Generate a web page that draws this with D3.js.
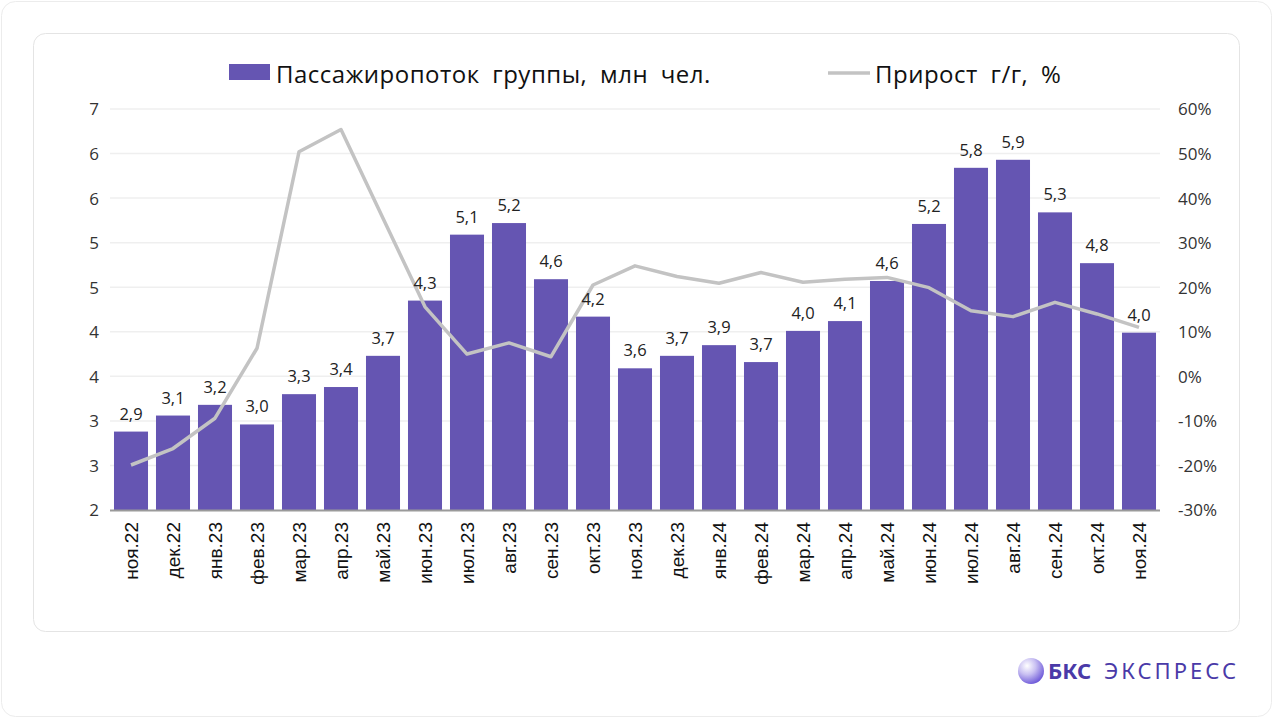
<!DOCTYPE html>
<html><head><meta charset="utf-8">
<script src="https://cdn.jsdelivr.net/npm/d3@7"></script>
<style>body{margin:0;background:#fff}svg{display:block}</style>
</head><body>
<svg id="c" width="1273" height="718"></svg>
<script>
const categories = ["ноя.22","дек.22","янв.23","фев.23","мар.23","апр.23","май.23","июн.23","июл.23","авг.23","сен.23","окт.23","ноя.23","дек.23","янв.24","фев.24","мар.24","апр.24","май.24","июн.24","июл.24","авг.24","сен.24","окт.24","ноя.24"];
const passengers = [2.88,3.06,3.18,2.96,3.30,3.38,3.73,4.35,5.09,5.22,4.59,4.17,3.59,3.73,3.85,3.66,4.01,4.12,4.57,5.21,5.84,5.93,5.34,4.77,3.99];
const growth = [-19.9,-16.2,-9.4,6.3,50.4,55.4,35.5,15.6,5.0,7.5,4.4,20.5,24.8,22.4,20.9,23.3,21.1,21.8,22.2,19.9,14.7,13.4,16.6,14.0,11.0];
const leftTicks = [2,2.5,3,3.5,4,4.5,5,5.5,6,6.5];
const rightTicks = [-30,-20,-10,0,10,20,30,40,50,60];
const seriesNames = ["Пассажиропоток группы, млн чел.","Прирост г/г, %"];

const svg = d3.select("#c");
const W=1273,H=718;
const M={l:110,r:1160,t:109,b:510};
const barColor="#6555b2", lineColor="#c3c3c3";

// frames
svg.append("rect").attr("x",1.5).attr("y",1.5).attr("width",W-3).attr("height",H-3).attr("rx",14).attr("fill","#fff").attr("stroke","#ececec");
svg.append("rect").attr("x",33.5).attr("y",33.5).attr("width",1206).attr("height",598).attr("rx",12).attr("fill","#fff").attr("stroke","#e4e4e4");

const x = d3.scaleBand().domain(categories).range([M.l,M.r]).paddingInner(0.19).paddingOuter(0.095);
const yL = d3.scaleLinear().domain([2,6.5]).range([M.b,M.t]);
const yR = d3.scaleLinear().domain([-30,60]).range([M.b,M.t]);

// gridlines
svg.append("g").selectAll("line").data(leftTicks.slice(1)).join("line")
  .attr("x1",M.l).attr("x2",M.r).attr("y1",d=>yL(d)).attr("y2",d=>yL(d))
  .attr("stroke","#efefef").attr("stroke-width",1.5);

// left axis
const fmtL = d=>String(Math.floor(d+0.5));
const axL = svg.append("g").attr("transform",`translate(${M.l-8},0)`)
  .call(d3.axisLeft(yL).tickValues(leftTicks).tickFormat(fmtL).tickSize(0).tickPadding(0));
axL.select(".domain").remove();
axL.selectAll("text").attr("font-family","'Open Sans', 'Noto Sans', sans-serif").attr("font-size",17).attr("fill","#333").attr("dy","0.35em").attr("x",-3);

// right axis
const axR = svg.append("g").attr("transform",`translate(${M.r+18},0)`)
  .call(d3.axisRight(yR).tickValues(rightTicks).tickFormat(d=>d+"%").tickSize(0).tickPadding(0));
axR.select(".domain").remove();
axR.selectAll("text").attr("font-family","'Open Sans', 'Noto Sans', sans-serif").attr("font-size",17).attr("fill","#333").attr("dy","0.35em");

// bars
svg.append("g").selectAll("rect").data(passengers).join("rect")
  .attr("x",(d,i)=>x(categories[i])).attr("width",x.bandwidth())
  .attr("y",d=>yL(d)).attr("height",d=>M.b-yL(d)).attr("fill",barColor);

// x axis baseline
svg.append("line").attr("x1",M.l).attr("x2",M.r).attr("y1",M.b+0.5).attr("y2",M.b+0.5).attr("stroke","#9a9a9a").attr("stroke-width",2);

// x labels
svg.append("g").selectAll("text").data(categories).join("text")
  .attr("transform",d=>`translate(${x(d)+x.bandwidth()/2+7},522) rotate(-90)`)
  .attr("text-anchor","end").attr("font-family","'Liberation Sans', Arial, sans-serif")
  .attr("font-size",19).attr("fill","#111").text(d=>d);

// line
const line = d3.line().x((d,i)=>x(categories[i])+x.bandwidth()/2).y(d=>yR(d));
svg.append("path").datum(growth).attr("d",line).attr("fill","none")
  .attr("stroke",lineColor).attr("stroke-width",3.5).attr("stroke-linejoin","round");

// data labels
svg.append("g").selectAll("text").data(passengers).join("text")
  .attr("x",(d,i)=>x(categories[i])+x.bandwidth()/2).attr("y",d=>yL(d)-12)
  .attr("text-anchor","middle").attr("font-family","'Open Sans', 'Noto Sans', sans-serif")
  .attr("font-size",16.5).attr("fill","#222").text(d=>d.toFixed(1).replace(".",","));

// legend
const lg = svg.append("g").attr("font-family","'Open Sans', 'Noto Sans', sans-serif").attr("font-size",24).attr("fill","#111").attr("letter-spacing",0.5);
lg.append("rect").attr("x",229).attr("y",64).attr("width",41).attr("height",16).attr("fill",barColor);
lg.append("text").attr("x",276).attr("y",83).attr("word-spacing",6).text(seriesNames[0]);
lg.append("line").attr("x1",828).attr("x2",870).attr("y1",73).attr("y2",73).attr("stroke",lineColor).attr("stroke-width",3.5);
lg.append("text").attr("x",875).attr("y",83).attr("word-spacing",6).text(seriesNames[1]);

// logo
const defs = svg.append("defs");
const g = defs.append("radialGradient").attr("id","lg").attr("cx","35%").attr("cy","30%").attr("r","75%");
g.append("stop").attr("offset","0%").attr("stop-color","#ffffff");
g.append("stop").attr("offset","45%").attr("stop-color","#c9c0f2");
g.append("stop").attr("offset","100%").attr("stop-color","#6a55d8");
svg.append("circle").attr("cx",1031).attr("cy",671).attr("r",13).attr("fill","url(#lg)");
svg.append("text").attr("x",1048).attr("y",679).attr("font-family","'Noto Sans', sans-serif").attr("font-weight","bold").attr("font-size",22).attr("fill","#4a3aa8").text("БКС");
svg.append("text").attr("x",1104).attr("y",679).attr("font-family","'Noto Sans', sans-serif").attr("font-size",22).attr("fill","#4a3aa8").attr("letter-spacing",3).text("ЭКСПРЕСС");
</script>
</body></html>
